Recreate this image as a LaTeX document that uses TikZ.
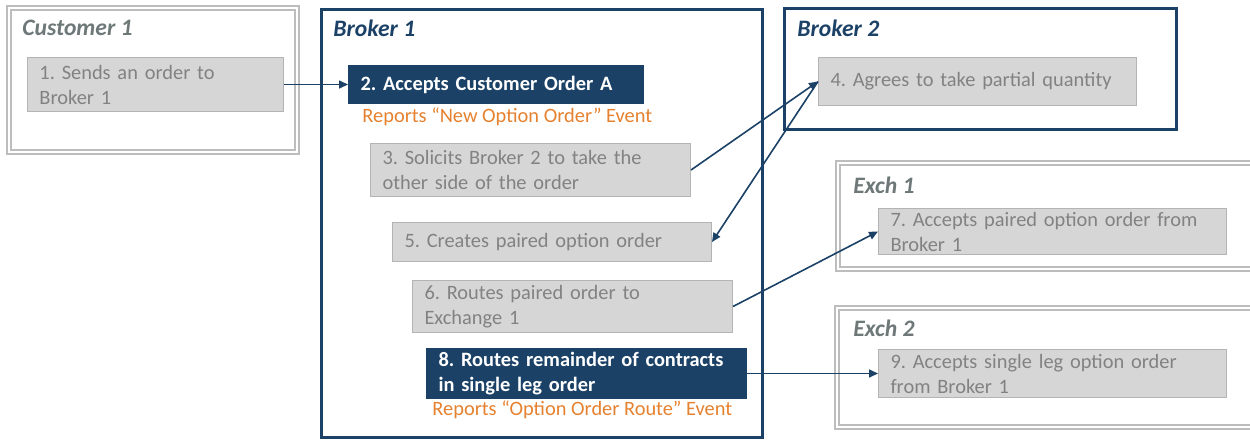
\documentclass[tikz,border=0pt]{standalone}
\usepackage{fontspec}
\setmainfont{Carlito}
\usetikzlibrary{arrows.meta}
\definecolor{navy}{HTML}{1B4166}
\definecolor{boxfill}{HTML}{D6D6D6}
\definecolor{boxline}{HTML}{B4B4B4}
\definecolor{txtgray}{HTML}{828282}
\definecolor{orng}{HTML}{E5812F}
\definecolor{frame}{HTML}{BDBDBD}
\definecolor{titlegray}{HTML}{6E7878}
\frenchspacing
\begin{document}
\begin{tikzpicture}[x=0.5pt,y=-0.5pt,
  font=\fontsize{10.2}{12.5}\selectfont,
  gbox/.style={draw=boxline, fill=boxfill, text=txtgray, anchor=north west,
    align=left, inner xsep=6pt, inner ysep=0pt, line width=0.5pt},
  nbox/.style={draw=navy, fill=navy, text=white, anchor=north west,
    align=left, inner xsep=6pt, inner ysep=0pt, line width=0.5pt,
    font=\fontsize{10.2}{12.5}\selectfont\bfseries},
  grayframe/.style={draw=frame, line width=0.6pt, double=white, double distance=1.4pt},
  navyframe/.style={draw=navy, line width=1.5pt},
  gtitle/.style={anchor=west, inner sep=0pt, text=titlegray,
    font=\fontsize{11.8}{14}\selectfont\bfseries\itshape},
  ntitle/.style={anchor=west, inner sep=0pt, text=navy,
    font=\fontsize{11.8}{14}\selectfont\bfseries\itshape},
  evt/.style={anchor=west, inner sep=0pt, text=orng},
  link/.style={draw=navy, line width=0.8pt, -{Triangle[length=4.5pt,width=4pt]}}
]
\useasboundingbox (0,0) rectangle (1250,440);

% containers
\draw[grayframe] (9,8) rectangle (297,152);
\draw[navyframe] (321,9) rectangle (762,437);
\draw[navyframe] (784,8) rectangle (1176,129);
\draw[grayframe] (838,163) rectangle (1260,269);
\draw[grayframe] (837,308) rectangle (1260,427);

% titles
\node[gtitle] (tc1) at (22,28) {Customer 1};
\node[ntitle] (tb1) at (333,28) {Broker 1};
\node[ntitle] (tb2) at (797,28) {Broker 2};
\node[gtitle] (te1) at (853,185) {Exch 1};
\node[gtitle] (te2) at (853,328) {Exch 2};

% steps
\node[gbox, minimum width=128pt, minimum height=27pt, text width=116pt] (b1) at (27,57)
  {1. Sends an order to\\Broker 1};
\node[nbox, minimum width=147.5pt, minimum height=19pt, text width=135.5pt] (b2) at (348,65)
  {2. Accepts Customer Order A};
\node[evt] (e2) at (362,117) {Reports “New Option Order” Event};
\node[gbox, minimum width=160pt, minimum height=26.5pt, text width=148pt] (b3) at (370,143)
  {3. Solicits Broker 2 to take the\\other side of the order};
\node[gbox, minimum width=159pt, minimum height=24pt, text width=147pt] (b4) at (818,57)
  {4. Agrees to take partial quantity};
\node[gbox, minimum width=159.5pt, minimum height=19.5pt, text width=147.5pt] (b5) at (392,222)
  {5. Creates paired option order};
\node[gbox, minimum width=160pt, minimum height=26pt, text width=148pt] (b6) at (412,280)
  {6. Routes paired order to\\Exchange 1};
\node[gbox, minimum width=174pt, minimum height=23pt, text width=162pt] (b7) at (878,208)
  {7. Accepts paired option order from\\Broker 1};
\node[nbox, minimum width=160pt, minimum height=25pt, text width=148pt] (b8) at (426,348)
  {8. Routes remainder of contracts\\in single leg order};
\node[evt] (e8) at (432,410) {Reports “Option Order Route” Event};
\node[gbox, minimum width=174pt, minimum height=24pt, text width=162pt] (b9) at (878,349)
  {9. Accepts single leg option order\\from Broker 1};

% connectors
\draw[link] (b1.east) -- (b2.west);
\draw[link] (b3.east) -- (b4.west);
\draw[link] (b4.west) -- (b5.east);
\draw[link] (b6.east) -- (b7.west);
\draw[link] (b8.east) -- (b9.west);
\end{tikzpicture}
\end{document}
